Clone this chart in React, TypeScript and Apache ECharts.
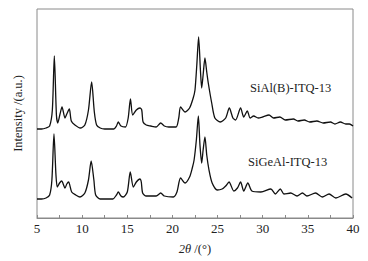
import React, { useEffect, useRef } from "react";
import * as echarts from "echarts";

// 2θ positions and intensities (a.u.)
const topTheta = [5.0, 5.5, 6.0, 6.4, 6.7, 6.92, 7.15, 7.3, 7.55, 7.77, 8.1, 8.3, 8.58, 8.8, 9.2, 9.8, 10.3, 10.7, 11.05, 11.35, 11.6, 12.0, 12.5, 13.5, 13.8, 14.0, 14.3, 14.8, 15.1, 15.35, 15.6, 16.0, 16.4, 16.6, 16.75, 17.1, 17.6, 18.2, 18.7, 19.1, 19.6, 20.4, 20.7, 20.9, 21.4, 21.9, 22.3, 22.5, 22.7, 22.9, 23.1, 23.24, 23.4, 23.6, 23.8, 23.97, 24.35, 24.7, 25.3, 25.9, 26.3, 26.7, 27.0, 27.55, 27.9, 28.3, 28.6, 29.0, 29.5, 30.0, 30.7, 31.2, 31.9, 32.5, 33.4, 33.9, 34.6, 35.2, 36.0, 36.7, 37.5, 38.0, 38.6, 39.2, 39.6, 40.0];
const topIntensity = [89, 89, 90, 92, 108, 162, 103, 95, 104, 111, 100, 104, 109, 97, 93, 90, 93, 108, 136, 106, 93, 90, 89, 89, 92, 96, 92, 91, 100, 119, 103, 108, 110, 108, 96, 93, 92, 91, 95, 92, 91, 91, 100, 111, 106, 110, 120, 128, 153, 181, 148, 130, 143, 160, 146, 135, 115, 100, 96, 100, 110, 100, 98, 110, 101, 107, 100, 102, 100, 101, 103, 100, 101, 98, 99, 97, 98, 96, 97, 95, 96, 94, 96, 94, 94, 92];

const bottomTheta = [5.0, 5.5, 6.0, 6.4, 6.65, 6.88, 7.1, 7.25, 7.5, 7.73, 8.1, 8.3, 8.5, 8.84, 9.3, 9.76, 10.3, 10.7, 11.0, 11.3, 11.5, 12.0, 13.4, 13.8, 14.0, 14.3, 14.55, 15.0, 15.33, 15.67, 16.0, 16.4, 16.55, 16.7, 17.1, 18.2, 18.7, 19.1, 20.1, 20.5, 20.9, 21.4, 21.9, 22.2, 22.4, 22.65, 22.87, 23.05, 23.24, 23.4, 23.6, 23.8, 24.05, 24.4, 24.97, 25.5, 25.9, 26.27, 26.8, 27.2, 27.55, 27.9, 28.35, 28.8, 29.8, 30.9, 31.4, 31.95, 32.35, 33.1, 33.8, 34.4, 34.9, 35.85, 36.6, 37.35, 38.1, 39.2, 39.9];
const bottomIntensity = [19, 19, 20, 23, 38, 84, 43, 31, 35, 37, 30, 34, 36, 26, 23, 21, 25, 38, 57, 38, 23, 19, 19, 23, 26, 22, 21, 26, 46, 31, 36, 39, 36, 25, 22, 22, 25, 22, 21, 26, 40, 35, 41, 50, 58, 78, 102, 73, 55, 68, 81, 63, 48, 35, 28, 29, 32, 36, 27, 30, 36, 27, 35, 27, 26, 29, 24, 29, 24, 25, 22, 25, 22, 25, 21, 24, 20, 24, 20];

const seriesNames = ["SiAl(B)-ITQ-13", "SiGeAl-ITQ-13"];
const xTicks = [5, 10, 15, 20, 25, 30, 35, 40];

const pairs = (xs: number[], ys: number[]) => xs.map((x, i) => [x, ys[i]]);

export default function App() {
  const ref = useRef<HTMLDivElement>(null);
  useEffect(() => {
    document.body.style.margin = "0";
    if (!ref.current) return;
    const chart = echarts.init(ref.current, undefined, { renderer: "svg" });
    const font = "'Liberation Serif', 'DejaVu Serif', serif";
    chart.setOption({
      animation: false,
      backgroundColor: "#ffffff",
      grid: {
        left: 37,
        right: 15,
        top: 9,
        bottom: 43,
        show: true,
        borderColor: "#8a8a8a",
        borderWidth: 1,
      },
      xAxis: {
        type: "value",
        min: xTicks[0],
        max: xTicks[xTicks.length - 1],
        interval: 5,
        name: "{i|2θ} /(°)",
        nameLocation: "middle",
        nameGap: 24,
        nameTextStyle: {
          color: "#222",
          fontFamily: font,
          fontSize: 12.5,
          rich: { i: { fontStyle: "italic", fontFamily: font, fontSize: 12.5, color: "#222" } },
        },
        axisLine: { show: true, lineStyle: { color: "#8a8a8a", width: 1 } },
        axisTick: { show: true, inside: true, length: 3, lineStyle: { color: "#8a8a8a" } },
        minorTick: { show: true, splitNumber: 2, length: 3, lineStyle: { color: "#8a8a8a" } },
        axisLabel: { color: "#222", fontFamily: font, fontSize: 13, margin: 4 },
        splitLine: { show: false },
      },
      yAxis: {
        type: "value",
        min: 0,
        max: 209,
        name: "Intensity /(a.u.)",
        nameLocation: "middle",
        nameGap: 13,
        nameTextStyle: { color: "#222", fontFamily: font, fontSize: 12.5 },
        axisLine: { show: false },
        axisTick: { show: false },
        axisLabel: { show: false },
        splitLine: { show: false },
      },
      series: [
        {
          name: seriesNames[0],
          type: "line",
          data: pairs(topTheta, topIntensity),
          showSymbol: false,
          smooth: 0.25,
          lineStyle: { color: "#111", width: 1.3 },
        },
        {
          name: seriesNames[1],
          type: "line",
          data: pairs(bottomTheta, bottomIntensity),
          showSymbol: false,
          smooth: 0.25,
          lineStyle: { color: "#111", width: 1.3 },
        },
      ],
      graphic: [
        {
          type: "text",
          left: 250,
          top: 81,
          style: { text: seriesNames[0], fill: "#222", font: `12.5px ${font}` },
        },
        {
          type: "text",
          left: 248,
          top: 155,
          style: { text: seriesNames[1], fill: "#222", font: `12.5px ${font}` },
        },
      ],
    });
    return () => chart.dispose();
  }, []);
  return <div ref={ref} style={{ width: 368, height: 261 }} />;
}
